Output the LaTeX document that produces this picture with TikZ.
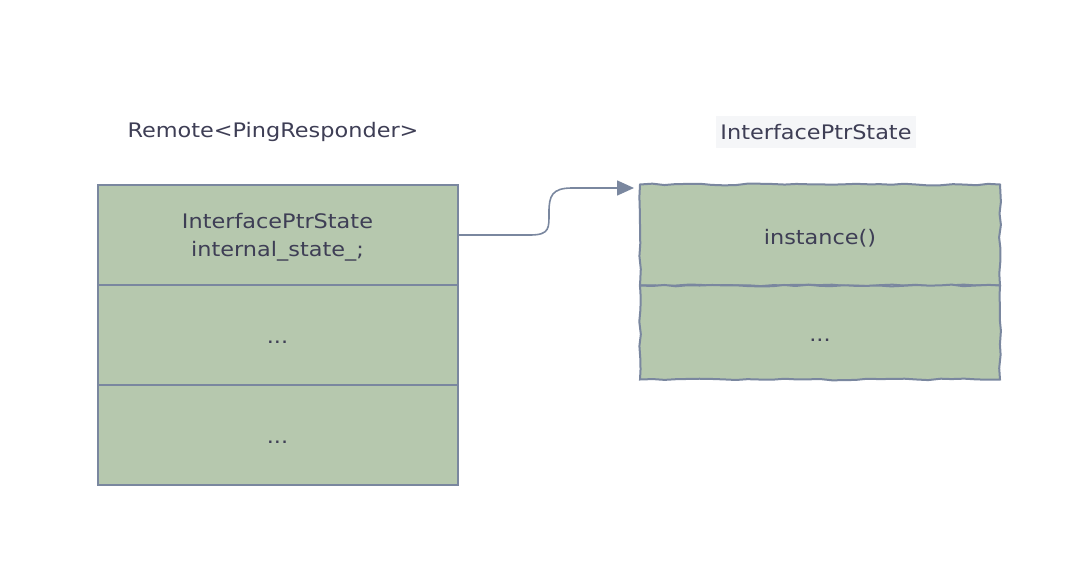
\documentclass[tikz,border=0pt]{standalone}
\usepackage{fontspec}
\setmainfont[FakeStretch=1.12]{DejaVu Sans}
\usetikzlibrary{arrows.meta,decorations.pathmorphing}
\definecolor{boxfill}{HTML}{B6C8AE}
\definecolor{boxline}{HTML}{7A879F}
\definecolor{txt}{HTML}{3E3E55}
\definecolor{tagbg}{HTML}{F5F6F8}
\tikzset{
  cell/.style={draw=boxline, fill=boxfill, line width=2pt, minimum width=360pt, inner sep=0pt, outer sep=0pt},
  sketchcell/.style={cell, decorate, decoration={random steps, segment length=12pt, amplitude=0.9pt}},
  celltext/.style={text=txt, font=\fontsize{20}{28}\selectfont, align=center, inner sep=0pt},
  title/.style={text=txt, font=\fontsize{20}{24}\selectfont, inner sep=0pt},
  conn/.style={draw=boxline, line width=1.6pt, -{Triangle[length=17pt,width=15pt]}}
}
\begin{document}
\begin{tikzpicture}[x=1pt,y=-1pt]
\pgfmathsetseed{7}
\useasboundingbox (0,0) rectangle (1084,570);
% left structure
\node[cell, minimum height=100pt, anchor=north west] (l1) at (97.5,184.5) {};
\node[cell, minimum height=100pt, anchor=north west] (l2) at (l1.south west) {};
\node[cell, minimum height=100pt, anchor=north west] (l3) at (l2.south west) {};
\node[celltext] (l1t) at ([yshift=-3pt]l1.center) {InterfacePtrState\\internal\_state\_;};
\node[celltext] (l2t) at ([yshift=-8pt]l2.center) {...};
\node[celltext] (l3t) at ([yshift=-8pt]l3.center) {...};
\node[title] (lt) at (273,132) {Remote<PingResponder>};
% right structure
\node[sketchcell, minimum height=101pt, anchor=north west] (r1) at (640,184.5) {};
\node[sketchcell, minimum height=94pt, anchor=north west] (r2) at (r1.south west) {};
\node[celltext] (r1t) at ([yshift=-3pt]r1.center) {instance()};
\node[celltext] (r2t) at ([yshift=-8pt]r2.center) {...};
\node[title, fill=tagbg, inner xsep=4pt, inner ysep=8pt] (rt) at (816,132) {InterfacePtrState};
% connector
\coordinate (tip) at (634,188);
\draw[conn] (l1.east |- 0,235) -- (530,235) .. controls (550,235) and (549,228) .. (549,212) .. controls (549,196) and (552,188) .. (572,188) -- (tip);
\end{tikzpicture}
\end{document}
